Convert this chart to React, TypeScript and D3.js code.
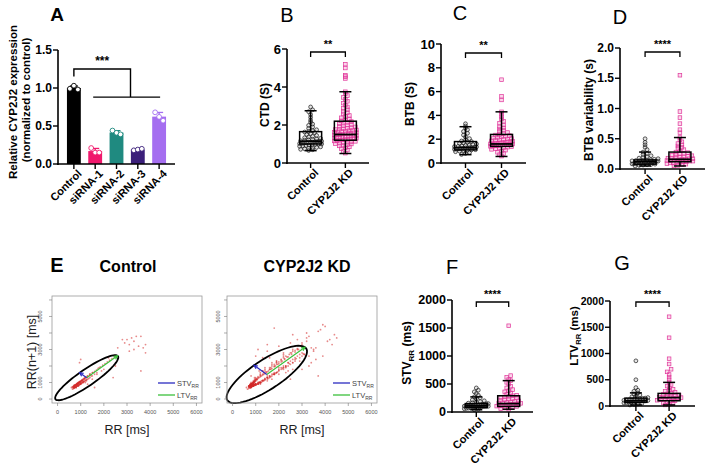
import React from "react";
import * as d3 from "d3";

const FONT = "'Liberation Sans', Arial, Helvetica, sans-serif";

// ---------- Panel A data ----------
const siCategories = ["Control", "siRNA-1", "siRNA-2", "siRNA-3", "siRNA-4"];
const siColors = ["#000000", "#f0186c", "#1f8a80", "#3b1f7a", "#a56ef0"];
const siReplicates = [
  [0.99, 1.03, 0.98],
  [0.21, 0.15, 0.15],
  [0.44, 0.41, 0.39],
  [0.18, 0.19, 0.2],
  [0.68, 0.62, 0.57],
];
const aTicks = [0, 0.5, 1.0, 1.5];

// ---------- Box panels data ----------
const groups = ["Control", "CYP2J2 KD"];

const ctdControl = [0.66,0.7,0.72,0.75,0.78,0.8,0.82,0.85,0.88,0.9,0.92,0.95,0.97,0.98,1.0,1.0,1.02,1.03,1.05,1.06,1.08,1.1,1.1,1.12,1.13,1.15,1.15,1.17,1.2,1.22,1.25,1.27,1.3,1.33,1.37,1.4,1.45,1.5,1.55,1.6,1.63,1.66,1.7,1.75,1.82,1.9,1.98,2.05,2.15,2.25,2.4,2.55,2.7,2.8,2.95];
const ctdKD = [0.52,0.6,0.68,0.75,0.8,0.85,0.9,0.93,0.96,1.0,1.02,1.05,1.07,1.1,1.12,1.14,1.16,1.18,1.2,1.22,1.24,1.25,1.27,1.29,1.3,1.32,1.34,1.35,1.37,1.39,1.4,1.42,1.44,1.45,1.47,1.49,1.5,1.52,1.54,1.55,1.57,1.59,1.6,1.62,1.64,1.66,1.68,1.7,1.72,1.74,1.76,1.78,1.8,1.83,1.86,1.9,1.93,1.96,2.0,2.03,2.06,2.1,2.14,2.18,2.22,2.27,2.32,2.38,2.45,2.5,2.58,2.65,2.72,2.8,2.88,2.95,3.05,3.15,3.25,3.35,3.45,3.55,3.65,3.75,4.45,4.55,4.62,5.0,5.2];
const ctdStats = [[0.65, 1.0, 1.15, 1.65, 2.75], [0.5, 1.2, 1.5, 2.2, 3.75]];
const ctdTicks = [0, 2, 4, 6];

const btbControl = [0.72,0.8,0.88,0.95,1.0,1.05,1.08,1.1,1.12,1.15,1.17,1.2,1.22,1.25,1.27,1.28,1.3,1.3,1.32,1.35,1.38,1.4,1.43,1.47,1.5,1.55,1.6,1.65,1.7,1.75,1.8,1.85,1.95,2.05,2.2,2.35,2.5,2.65,2.8,2.95,3.1,3.3];
const btbKD = [0.58,0.7,0.8,0.9,1.0,1.08,1.15,1.2,1.25,1.3,1.33,1.36,1.4,1.42,1.44,1.46,1.48,1.5,1.52,1.54,1.55,1.57,1.58,1.6,1.61,1.63,1.65,1.67,1.7,1.72,1.75,1.78,1.8,1.83,1.86,1.9,1.94,1.98,2.02,2.06,2.1,2.15,2.2,2.25,2.3,2.35,2.4,2.48,2.56,2.65,2.75,2.85,2.95,3.05,3.2,3.35,3.5,3.7,3.9,4.1,4.3,5.3,5.6,7.0];
const btbStats = [[0.7, 1.1, 1.3, 1.8, 3.05], [0.55, 1.4, 1.6, 2.4, 4.3]];
const btbTicks = [0, 2, 4, 6, 8, 10];

const btbVarControl = [0.05,0.06,0.065,0.07,0.075,0.08,0.085,0.09,0.09,0.095,0.1,0.1,0.105,0.11,0.11,0.115,0.12,0.12,0.12,0.125,0.13,0.13,0.135,0.14,0.14,0.145,0.15,0.15,0.16,0.17,0.18,0.19,0.2,0.22,0.24,0.26,0.28,0.32,0.36,0.4,0.44,0.5];
const btbVarKD = [0.05,0.06,0.07,0.08,0.09,0.1,0.1,0.11,0.11,0.12,0.12,0.13,0.13,0.14,0.14,0.15,0.15,0.16,0.16,0.17,0.17,0.18,0.18,0.19,0.2,0.2,0.21,0.22,0.23,0.24,0.25,0.26,0.27,0.28,0.3,0.32,0.34,0.36,0.38,0.4,0.42,0.45,0.48,0.52,0.6,0.65,0.75,0.85,0.95,1.55];
const btbVarStats = [[0.05, 0.08, 0.12, 0.15, 0.28], [0.05, 0.12, 0.16, 0.28, 0.52]];
const btbVarTicks = [0, 0.5, 1.0, 1.5, 2.0];

const stvControl = [40,50,58,65,70,75,80,85,88,92,95,98,100,103,105,108,110,112,115,118,120,123,126,130,134,138,142,146,150,158,166,175,185,200,215,235,255,270,300,330,360,390,430];
const stvKD = [50,60,70,80,90,100,105,110,115,120,125,130,135,140,145,150,155,160,165,170,180,190,200,210,220,230,240,250,260,270,280,290,300,320,340,360,380,400,430,460,500,530,560,580,620,650,1540];
const stvStats = [[40, 80, 110, 150, 270], [50, 100, 150, 290, 560]];

const ltvControl = [20,30,40,50,58,65,70,75,80,85,90,95,100,100,105,110,115,120,125,130,135,140,145,150,160,175,190,210,230,250,280,300,350,500,860];
const ltvKD = [20,35,50,65,80,95,100,110,120,130,140,150,155,160,165,170,180,190,200,210,220,230,240,260,280,300,320,350,380,410,450,500,550,600,650,700,800,900,1300,1700];
const ltvStats = [[20, 70, 100, 150, 250], [20, 100, 160, 240, 450]];
const msTicks = [0, 500, 1000, 1500, 2000];

// ---------- Panel E data (RR interval series, ms) ----------
const rrControl = [650,700,760,720,800,850,820,900,870,950,1000,960,1050,1100,1020,980,900,850,780,720,680,740,800,880,950,1030,1100,1180,1250,1200,1300,1380,1450,1400,1520,1600,1680,1750,1850,1950,2050,2150,2250,2350,2450,2550,2600,3100,3300,3000,3600,3800,3300,3500,3200,3700,3100,2900,3400,3800,2800,3600,1700,1500,1200,1000,2400,1300,900,800,700,650,600,700,820,900,980,1050,1150,1250,1100,1000,900,800,750,700,650,750,850,950,1050,1150,1250,1350,1250,1150,1050,950,850,900,1000,1100,1200,1300,1400,1500,1600,1500,1400,1300,1200,1100,1000,900,800,700,750,850,950,2200,2500,2000,1800,1900,1700,1600,700,760,820,780,850,900,960,920,1000,1060,1120,1080,1150,1200,1140,1080,1020,960,900,840,780,720,690,730,780,830,880,940,1000,1050];
const rrKD = [800,850,780,900,950,870,820,760,900,1000,1100,950,880,800,750,820,900,1050,1200,1000,900,850,780,700,760,850,950,1100,1300,1500,1400,1250,1100,1000,900,800,850,950,1200,1600,1800,1500,1300,1700,2000,1900,1600,1400,1200,1000,900,800,850,900,1000,1200,1400,1700,2100,2400,2200,1900,2300,2600,2900,2700,2500,2800,3000,2600,2200,1800,1500,1200,1000,850,780,700,650,600,700,800,950,1100,1350,1600,1900,2200,2500,2300,2000,1750,1500,1300,1100,950,820,760,830,900,980,1150,1300,1450,1600,1800,2000,2250,2450,2700,2950,3200,3500,3000,3300,3800,4200,3600,3100,2700,2400,2000,3200,4000,4400,3900,2600,1800,1500,2900,2300,1900,1600,1300,1100,900,800,700,750,820,880,950,1050,1200,1500,3300,2000,1500,1100,900,780,720,800,900,1000,1100,1250,1400,1550,1700,1850,2000,2150,2300,1600,2500,3400,2200,2800,3600,2400,1700,1200,1000,880,950,1050,1150,1700,1400,1150,1000,860,790,850,920,1000,2600,3900,4500,3700,1400,1800,2100,1900,2200,2600,3000,3400,3100,2700,2300,1950,1650,1350,1100,950,850,800,900,1000,1200,1450,1650,1900,2100,2350,2550,2800,3050,2750,2450,2150,1850,1550,1250,1000,880,800,760,820,780,820,760,840,900,860,800,740,700,760,820,880,940,1000,920,860,800,1400,1900,2300,2000,1700,1500,1300,1150,1000,900,850,800,750,700,800,1000,1300,1700,2200,2700,3200,3700,4100,3500,2900,2500,2100,1800,1500,1300,1100,900,850,900,950,1050,1200,1350,1500,1650,1800,1950,2100,2250,2400,2550,2700,2850,3000,2800,2600,2400,2200,2000,1800,1600,1400,1200,1000,850,760,700,740,800,870,950,1300,2500,1200,900,1100,3000,1800,4300,3300,2600,2200,1900,1600,1350,1150,1000,900];
const ellipseControl = { cx: 1260, cy: 1290, sd1: 430, sd2: 1880 };
const ellipseKD = { cx: 1480, cy: 1490, sd1: 780, sd2: 2330 };
const rrTicks = [0, 1000, 2000, 3000, 4000, 5000, 6000];
const rrYLabels = [0, 1000, 3000, 5000];

const CTRL_STROKE = "#1a1a1a";
const KD_STROKE = "#e0359a";

function swarm(values: number[], y: any, cx: number, r: number, maxHalf: number) {
  const bin = r * 1.5;
  const pts = values.map((v) => ({ v, py: y(v) }));
  const bins = d3.groups(pts, (d) => Math.round(d.py / bin));
  const out: { x: number; y: number }[] = [];
  for (const [, arr] of bins) {
    const n = arr.length;
    const spacing = n > 1 ? Math.min(r * 2.1, (2 * maxHalf) / (n - 1)) : 0;
    arr.forEach((d, i) => out.push({ x: cx + (i - (n - 1) / 2) * spacing, y: d.py }));
  }
  return out;
}

function RotLabel({ x, y, children, size = 11 }: any) {
  return (
    <text transform={`translate(${x},${y}) rotate(-45)`} textAnchor="end" dy="0.7em" fontSize={size} fontWeight="bold" fontFamily={FONT}>
      {children}
    </text>
  );
}

function YAxis({ x, scale, ticks, fmt, size = 12 }: any) {
  const [r0, r1] = scale.range();
  return (
    <g>
      <line x1={x} x2={x} y1={r0 + 1} y2={r1} stroke="#000" strokeWidth={1.6} />
      {ticks.map((t: number) => (
        <g key={t}>
          <line x1={x - 5} x2={x} y1={scale(t)} y2={scale(t)} stroke="#000" strokeWidth={1.4} />
          <text x={x - 6} y={scale(t)} dy="0.35em" textAnchor="end" fontSize={size} fontWeight="bold" fontFamily={FONT}>
            {fmt ? fmt(t) : t}
          </text>
        </g>
      ))}
    </g>
  );
}

function BoxPanel(p: any) {
  const y = d3.scaleLinear().domain(p.domain).range([p.y0, p.y1]);
  const x = d3.scalePoint().domain(groups).range([p.axisX, p.axisEnd]).padding(p.pad);
  const boxW = 22;
  const capW = 12;
  const sets = [p.ctrl, p.kd];
  return (
    <g>
      <text x={p.letterX} y={p.letterY} fontSize={20} fontFamily={FONT} textAnchor="middle">{p.letter}</text>
      {p.label && (
        <text transform={`translate(${p.labelX},${p.labelY}) rotate(-90)`} textAnchor="middle" fontSize={12} fontWeight="bold" fontFamily={FONT}>
          {p.label}
        </text>
      )}
      {sets.map((vals: number[], gi: number) => {
        const cx = x(groups[gi]) as number;
        const pts = swarm(vals, y, cx, 1.9, p.swarmHalf);
        return (
          <g key={gi}>
            {pts.map((d, i) =>
              gi === 0 ? (
                <circle key={i} cx={d.x} cy={d.y} r={1.9} fill="#999" fillOpacity={0.25} stroke={CTRL_STROKE} strokeWidth={0.7} />
              ) : (
                <rect key={i} x={d.x - 1.8} y={d.y - 1.8} width={3.6} height={3.6} fill="#f07ab8" fillOpacity={0.3} stroke={KD_STROKE} strokeWidth={0.7} />
              )
            )}
          </g>
        );
      })}
      {p.stats.map((s: number[], gi: number) => {
        const cx = x(groups[gi]) as number;
        return (
          <g key={gi} stroke="#000" strokeWidth={1.5} fill="none">
            <line x1={cx} x2={cx} y1={y(s[0])} y2={y(s[1])} />
            <line x1={cx} x2={cx} y1={y(s[3])} y2={y(s[4])} />
            <line x1={cx - capW / 2} x2={cx + capW / 2} y1={y(s[0])} y2={y(s[0])} />
            <line x1={cx - capW / 2} x2={cx + capW / 2} y1={y(s[4])} y2={y(s[4])} />
            <rect x={cx - boxW / 2} y={y(s[3])} width={boxW} height={y(s[1]) - y(s[3])} />
            <line x1={cx - boxW / 2} x2={cx + boxW / 2} y1={y(s[2])} y2={y(s[2])} strokeWidth={1.8} />
          </g>
        );
      })}
      <YAxis x={p.axisX} scale={y} ticks={p.ticks} fmt={p.fmt} size={p.tickSize || 12} />
      <line x1={p.axisX - 0.8} x2={p.axisEnd} y1={p.y0} y2={p.y0} stroke="#000" strokeWidth={1.6} />
      {groups.map((g) => {
        const cx = x(g) as number;
        return (
          <g key={g}>
            <line x1={cx} x2={cx} y1={p.y0} y2={p.y0 + 5} stroke="#000" strokeWidth={1.4} />
            <RotLabel x={cx + 3} y={p.y0 + 5}>{g}</RotLabel>
          </g>
        );
      })}
      {(() => {
        const c0 = x(groups[0]) as number;
        const c1 = x(groups[1]) as number;
        return (
          <g>
            <path d={`M${c0},${p.sigY + 5}V${p.sigY}H${c1}V${p.sigY + 5}`} fill="none" stroke="#000" strokeWidth={1.3} />
            <text x={(c0 + c1) / 2} y={p.sigY - 4} textAnchor="middle" fontSize={11} fontWeight="bold" fontFamily={FONT}>{p.stars}</text>
          </g>
        );
      })()}
    </g>
  );
}

function PanelA() {
  const y = d3.scaleLinear().domain([0, 1.5]).range([164, 50]);
  const x = d3.scaleBand().domain(siCategories).range([58, 175]).paddingInner(0.35).paddingOuter(0.42);
  const bw = x.bandwidth();
  return (
    <g>
      <text x={57} y={21} fontSize={19} fontWeight="bold" fontFamily={FONT} textAnchor="middle">A</text>
      <text transform="translate(17,102) rotate(-90)" textAnchor="middle" fontSize={11.5} fontWeight="bold" fontFamily={FONT}>Relative CYP2J2 expression</text>
      <text transform="translate(30,100) rotate(-90)" textAnchor="middle" fontSize={11.5} fontWeight="bold" fontFamily={FONT}>(normalized to control)</text>
      {siCategories.map((c, i) => {
        const vals = siReplicates[i];
        const m = d3.mean(vals) as number;
        const sd = d3.deviation(vals) as number;
        const cx = (x(c) as number) + bw / 2;
        return (
          <g key={c}>
            <line x1={cx} x2={cx} y1={y(m)} y2={y(m + sd)} stroke={siColors[i]} strokeWidth={1.3} />
            <line x1={cx - 4} x2={cx + 4} y1={y(m + sd)} y2={y(m + sd)} stroke={siColors[i]} strokeWidth={1.3} />
            <rect x={x(c)} y={y(m)} width={bw} height={y(0) - y(m)} fill={siColors[i]} />
            {vals.map((v, j) => (
              <circle key={j} cx={cx + (j - 1) * 4} cy={y(v)} r={2.4} fill="#fff" stroke={i === 0 ? "#000" : siColors[i]} strokeWidth={0.9} />
            ))}
          </g>
        );
      })}
      <YAxis x={58} scale={y} ticks={aTicks} fmt={d3.format(".1f")} size={12} />
      <line x1={57.2} x2={175} y1={164} y2={164} stroke="#000" strokeWidth={1.6} />
      {siCategories.map((c) => {
        const cx = (x(c) as number) + bw / 2;
        return (
          <g key={c}>
            <line x1={cx} x2={cx} y1={164} y2={169} stroke="#000" strokeWidth={1.4} />
            <RotLabel x={cx + 3} y={169}>{c}</RotLabel>
          </g>
        );
      })}
      {(() => {
        const c0 = (x(siCategories[0]) as number) + bw / 2;
        const c1 = (x(siCategories[1]) as number) + bw / 2;
        const c4 = (x(siCategories[4]) as number) + bw / 2;
        const mid = (c0 + c4) / 2 + 14;
        return (
          <g stroke="#000" strokeWidth={1.4} fill="none">
            <path d={`M${c0},${y(1.15)}V${y(1.25)}H${mid}V${y(0.88)}`} />
            <line x1={c1 - 2} x2={c4 + 1} y1={y(0.88)} y2={y(0.88)} />
            <text x={(c0 + mid) / 2} y={y(1.25) - 4} textAnchor="middle" fontSize={12} fontWeight="bold" fontFamily={FONT} fill="#000" stroke="none">***</text>
          </g>
        );
      })()}
    </g>
  );
}

function Poincare({ left, title, titleX, series, ell, yLabelX, showYTitle }: any) {
  const xs = d3.scaleLinear().domain([-240, 6240]).range([left, left + 150]);
  const ys = d3.scaleLinear().domain([-240, 6240]).range([403, 296]);
  const pairs = d3.pairs(series as number[]);
  const s2 = Math.SQRT1_2;
  const ellPts = d3.range(0, 361, 5).map((deg) => {
    const t = (deg * Math.PI) / 180;
    const u = ell.sd2 * Math.cos(t);
    const v = ell.sd1 * Math.sin(t);
    return [xs(ell.cx + (u - v) * s2), ys(ell.cy + (u + v) * s2)] as [number, number];
  });
  const line = d3.line();
  const arrow = (x2: number, y2: number, color: string) => {
    const X1 = xs(ell.cx), Y1 = ys(ell.cy), X2 = xs(x2), Y2 = ys(y2);
    const ang = Math.atan2(Y2 - Y1, X2 - X1);
    const h = 4;
    const a1 = ang + Math.PI - 0.45, a2 = ang + Math.PI + 0.45;
    return (
      <g stroke={color} strokeWidth={1.2} fill="none">
        <line x1={X1} y1={Y1} x2={X2} y2={Y2} />
        <path d={`M${X2 + h * Math.cos(a1)},${Y2 + h * Math.sin(a1)}L${X2},${Y2}L${X2 + h * Math.cos(a2)},${Y2 + h * Math.sin(a2)}`} />
      </g>
    );
  };
  const legX = left + 106;
  return (
    <g fontFamily={FONT}>
      <text x={titleX} y={272} textAnchor="middle" fontSize={16} fontWeight="bold">{title}</text>
      {pairs.map(([a, b], i) => (
        <circle key={i} cx={xs(a)} cy={ys(b)} r={0.9} fill="#d42a2a" fillOpacity={0.55} />
      ))}
      <path d={line(ellPts) as string} fill="none" stroke="#000" strokeWidth={1.8} />
      {arrow(ell.cx + ell.sd2 * s2, ell.cy + ell.sd2 * s2, "#3cc03c")}
      {arrow(ell.cx - ell.sd1 * s2, ell.cy + ell.sd1 * s2, "#2a2ac0")}
      <rect x={left} y={296} width={150} height={107} fill="none" stroke="#999" strokeWidth={0.8} />
      {rrTicks.map((t) => (
        <g key={t}>
          <line x1={xs(t)} x2={xs(t)} y1={403} y2={406} stroke="#777" strokeWidth={0.6} />
          <text x={xs(t)} y={414} textAnchor="middle" fontSize={5.5} fill="#555">{t}</text>
          <line x1={left - 3} x2={left} y1={ys(t)} y2={ys(t)} stroke="#777" strokeWidth={0.6} />
        </g>
      ))}
      {rrYLabels.map((t) => (
        <text key={t} transform={`translate(${yLabelX},${ys(t)}) rotate(-90)`} textAnchor="middle" fontSize={5.5} fill="#555">{t}</text>
      ))}
      <line x1={legX} x2={legX + 17} y1={383} y2={383} stroke="#2a2ac0" strokeWidth={1.3} />
      <text x={legX + 19} y={386} fontSize={7.5} fill="#444">STV<tspan fontSize={5} dy={1.5}>RR</tspan></text>
      <line x1={legX} x2={legX + 17} y1={395} y2={395} stroke="#3cc03c" strokeWidth={1.3} />
      <text x={legX + 19} y={398} fontSize={7.5} fill="#444">LTV<tspan fontSize={5} dy={1.5}>RR</tspan></text>
      <text x={left + 75} y={434} textAnchor="middle" fontSize={12.5} fill="#222">RR [ms]</text>
      {showYTitle && (
        <text transform={`translate(${left - 16},352) rotate(-90)`} textAnchor="middle" fontSize={12.5} fill="#222">RR(n+1) [ms]</text>
      )}
    </g>
  );
}

function SubLabel({ x, y, main, size = 12 }: any) {
  return (
    <text transform={`translate(${x},${y}) rotate(-90)`} textAnchor="middle" fontSize={size} fontWeight="bold" fontFamily={FONT}>
      {main}
      <tspan fontSize={size * 0.67} dy={3}>RR</tspan>
      <tspan dy={-3}> (ms)</tspan>
    </text>
  );
}

export default function App() {
  return (
    <svg width={715} height={473} style={{ position: "absolute", left: 0, top: 0, background: "#fff" }}>
      <rect width={715} height={473} fill="#fff" />
      <PanelA />
      <BoxPanel letter="B" letterX={287} letterY={22} label="CTD (S)" labelX={269} labelY={105}
        axisX={287} axisEnd={369} y0={163} y1={49} domain={[0, 6]} ticks={ctdTicks} pad={0.68}
        ctrl={ctdControl} kd={ctdKD} stats={ctdStats} sigY={52} stars="**" swarmHalf={11} tickSize={13} />
      <BoxPanel letter="C" letterX={460} letterY={20} label="BTB (S)" labelX={414} labelY={104}
        axisX={441} axisEnd={526} y0={163} y1={44} domain={[0, 10]} ticks={btbTicks} pad={0.68}
        ctrl={btbControl} kd={btbKD} stats={btbStats} sigY={53} stars="**" swarmHalf={11} tickSize={13} />
      <BoxPanel letter="D" letterX={620} letterY={24} label="BTB variability (s)" labelX={593} labelY={110}
        axisX={620} axisEnd={705} y0={169} y1={48} domain={[0, 2]} ticks={btbVarTicks} fmt={d3.format(".1f")} pad={0.72}
        ctrl={btbVarControl} kd={btbVarKD} stats={btbVarStats} sigY={52} stars="****" swarmHalf={13} tickSize={12} />
      <text x={57} y={272} fontSize={20} fontWeight="bold" fontFamily={FONT} textAnchor="middle">E</text>
      <Poincare left={52} title="Control" titleX={128} series={rrControl} ell={ellipseControl} yLabelX={42} showYTitle={true} />
      <Poincare left={227} title="CYP2J2 KD" titleX={307} series={rrKD} ell={ellipseKD} yLabelX={220} showYTitle={false} />
      <BoxPanel letter="F" letterX={452} letterY={274} label={null} labelX={0} labelY={0}
        axisX={452} axisEnd={533} y0={412} y1={300} domain={[0, 2000]} ticks={msTicks} pad={0.75}
        ctrl={stvControl} kd={stvKD} stats={stvStats} sigY={302} stars="****" swarmHalf={12} tickSize={12.5} />
      <SubLabel x={411} y={353} main="STV" />
      <BoxPanel letter="G" letterX={622} letterY={270} label={null} labelX={0} labelY={0}
        axisX={610} axisEnd={695} y0={406} y1={301} domain={[0, 2000]} ticks={msTicks} pad={0.78}
        ctrl={ltvControl} kd={ltvKD} stats={ltvStats} sigY={302} stars="****" swarmHalf={12} tickSize={10.5} />
      <SubLabel x={578} y={336} main="LTV" size={11.5} />
    </svg>
  );
}
